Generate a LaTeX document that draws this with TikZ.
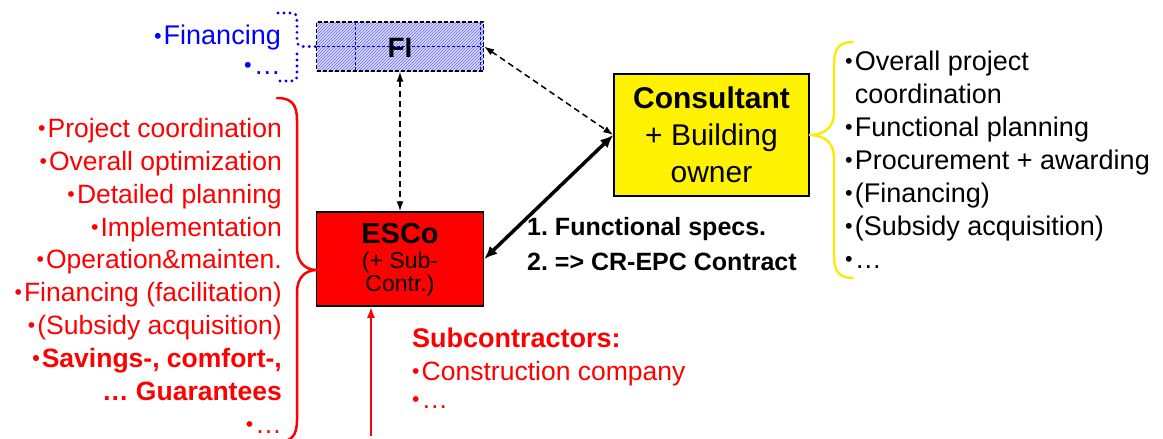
\documentclass[tikz,border=0pt]{standalone}
\usepackage{fontspec}
\setmainfont{Liberation Sans}
\usetikzlibrary{arrows.meta,patterns}
\newcommand{\bul}{\makebox[0.36em][l]{\raisebox{0.07em}{\scalebox{0.8}{•}}}}
\definecolor{braceyellow}{RGB}{250,235,0}
\begin{document}
\begin{tikzpicture}[x=1pt,y=-1pt,
  lbl/.style={inner sep=0pt, font=\fontsize{26.5}{31}\selectfont\frenchspacing},
  redl/.style={lbl, text=red, anchor=base east},
  blkl/.style={lbl, font=\fontsize{27}{31}\selectfont, text=black, anchor=base west},
  bluel/.style={lbl, font=\fontsize{27}{31}\selectfont, text=blue, anchor=base east},
  subl/.style={lbl, text=red, anchor=base west},
  dasharrow/.style={draw=black, line width=1.5pt, dash pattern=on 6pt off 4pt, {Latex[length=10pt,width=7pt]}-{Latex[length=10pt,width=7pt]}},
  solidarrow/.style={draw=black, line width=3.5pt, {Latex[length=13pt,width=11pt]}-{Latex[length=13pt,width=11pt]}},
  redarrow/.style={draw=red, line width=2pt, -{Latex[length=11pt,width=8pt]}},
  fibox/.style={draw=black, line width=1.2pt, dash pattern=on 4pt off 2pt, preaction={fill=blue!14}, pattern=north east lines, pattern color=blue!60, minimum width=167pt, minimum height=49pt, inner sep=0pt},
  escobox/.style={draw=black, line width=1.5pt, fill=red, minimum width=167pt, minimum height=94pt, inner sep=0pt},
  consbox/.style={draw=black, line width=1.5pt, fill=yellow, minimum width=195pt, minimum height=122pt, inner sep=0pt},
  brace/.style={line width=2.5pt, line cap=round},
  dotbrace/.style={blue, line width=3.2pt, line cap=round, dash pattern=on 0pt off 6pt}
]
\useasboundingbox (0,0) rectangle (1163,439);

% ---------- FI box ----------
\node[fibox] (fi) at (400,46.5) {};
\draw[blue, line width=0.8pt, dash pattern=on 3pt off 2pt] (355,22) -- (355,71) (480,22) -- (480,71) (316.5,46.5) -- (483.5,46.5);
\node[lbl, font=\fontsize{28}{30}\selectfont\bfseries, anchor=base] (fit) at (400,57) {FI};

% blue dotted bracket
\draw[dotbrace] (278,13) -- (290,13) .. controls (296,13) and (297,15) .. (297,21) -- (297,40) .. controls (297,45) and (299,46.5) .. (304,46.5) -- (fi.west);
\draw[dotbrace] (297,54) -- (297,74) .. controls (297,80) and (296,81) .. (290,81) -- (278,81);
\node[bluel] (bfin) at (281,45) {\bul Financing};
\node[bluel] (bdots) at (281,74) {\bul…};

% ---------- ESCo ----------
\node[escobox] (esco) at (400,259) {};
\node[lbl, font=\fontsize{29}{31}\selectfont\bfseries, anchor=base] (escot1) at (400,243) {ESCo};
\node[lbl, font=\fontsize{23}{25}\selectfont, anchor=base] (escot2) at (400,268) {(+ Sub-};
\node[lbl, font=\fontsize{23}{25}\selectfont, anchor=base] (escot3) at (400,291.5) {Contr.)};

% ---------- Consultant ----------
\node[consbox] (cons) at (711.5,135) {};
\node[lbl, font=\fontsize{30}{32}\selectfont\bfseries, anchor=base] (const1) at (711.5,108) {Consultant};
\node[lbl, font=\fontsize{30}{32}\selectfont, anchor=base] (const2) at (711.5,145) {+ Building};
\node[lbl, font=\fontsize{30}{32}\selectfont, anchor=base] (const3) at (711.5,182) {owner};

% ---------- connectors ----------
\draw[dasharrow] (fi.south) -- (esco.north);
\draw[dasharrow] (fi.east) -- (cons.west);
\draw[solidarrow] (esco.east) -- (cons.west);
\coordinate (subsrc) at (371,436);
\draw[redarrow] (subsrc) -- (subsrc |- esco.south);

\node[lbl, font=\fontsize{25}{30}\selectfont\bfseries\frenchspacing, anchor=base west] (spec1) at (527,235) {1. Functional specs.};
\node[lbl, font=\fontsize{25}{30}\selectfont\bfseries\frenchspacing, anchor=base west] (spec2) at (527,270) {2. => CR-EPC Contract};

% ---------- red brace + list ----------
\draw[red, brace] (277,98) .. controls (292,98) and (297,105) .. (297,120) -- (297,248) .. controls (297,262) and (305,270) .. (317,270) .. controls (305,270) and (297,278) .. (297,292) -- (297,420) .. controls (297,435) and (292,442) .. (277,442);
\node[redl] (r1) at (282,137) {\bul Project coordination};
\node[redl] (r2) at (282,170) {\bul Overall optimization};
\node[redl] (r3) at (282,203) {\bul Detailed planning};
\node[redl] (r4) at (282,236) {\bul Implementation};
\node[redl] (r5) at (282,268.5) {\bul Operation\&mainten.};
\node[redl] (r6) at (282,301.5) {\bul Financing (facilitation)};
\node[redl] (r7) at (282,334.5) {\bul(Subsidy acquisition)};
\node[redl, font=\fontsize{26.5}{31}\selectfont\bfseries] (r8) at (282,367.5) {\bul Savings-, comfort-,};
\node[redl, font=\fontsize{26.5}{31}\selectfont\bfseries] (r9) at (282,400) {… Guarantees};
\node[redl] (r10) at (282,433) {\bul…};

% ---------- yellow brace + list ----------
\draw[braceyellow, brace, line width=2.4pt] (853,42) .. controls (838,42) and (834,50) .. (834,64) -- (834,112) .. controls (834,127) and (825,135) .. (809,135) .. controls (825,135) and (834,143) .. (834,158) -- (834,256) .. controls (834,270) and (838,278) .. (853,278);
\node[blkl] (k1) at (845,70) {\bul Overall project};
\node[blkl] (k2) at (845,103) {\phantom{\bul}coordination};
\node[blkl] (k3) at (845,136) {\bul Functional planning};
\node[blkl] (k4) at (845,169) {\bul Procurement + awarding};
\node[blkl] (k5) at (845,202) {\bul(Financing)};
\node[blkl] (k6) at (845,235) {\bul(Subsidy acquisition)};
\node[blkl] (k7) at (845,268) {\bul…};

% ---------- subcontractors ----------
\node[subl, font=\fontsize{27}{31}\selectfont\bfseries] (s1) at (412,347) {Subcontractors:};
\node[subl] (s2) at (412,380) {\bul Construction company};
\node[subl] (s3) at (412,408) {\bul…};
\end{tikzpicture}
\end{document}
